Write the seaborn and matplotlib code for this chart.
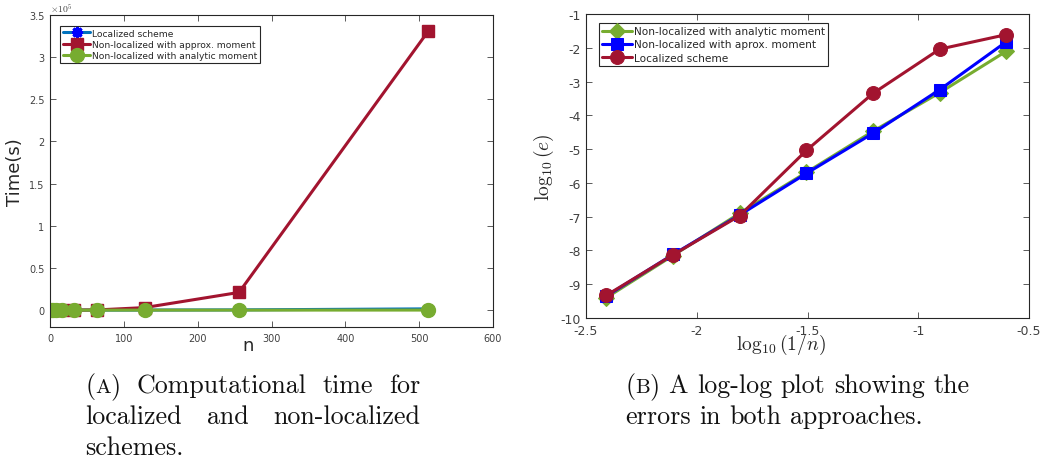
import matplotlib
matplotlib.use("Agg")
import matplotlib.pyplot as plt
import numpy as np
import pandas as pd
import seaborn as sns
from matplotlib.ticker import FuncFormatter

# ---- Panel (a): computational time vs n ----
n_time = [2, 4, 8, 16, 32, 64, 128, 256, 512]
time_localized = [1, 2, 5, 10, 20, 40, 90, 300, 1500]
time_nonloc_approx = [1, 3, 8, 20, 60, 250, 3000, 21000, 330500]
time_nonloc_analytic = [1, 1, 2, 3, 5, 10, 20, 40, 80]

# ---- Panel (b): log-log error plot ----
n_err = [256, 128, 64, 32, 16, 8, 4]
log_err_analytic = [-9.40, -8.15, -6.90, -5.69, -4.47, -3.33, -2.10]
log_err_approx = [-9.35, -8.12, -6.95, -5.72, -4.53, -3.24, -1.82]
log_err_localized = [-9.33, -8.13, -6.97, -5.04, -3.35, -2.04, -1.61]

time_legend = ["Localized scheme", "Non-localized with approx. moment",
               "Non-localized with analytic moment"]
err_legend = ["Non-localized with analytic moment",
              "Non-localized with aprox. moment", "Localized scheme"]

sns.set_style("white")
plt.rcParams["font.family"] = ["DejaVu Sans"]
plt.rcParams["mathtext.fontset"] = "cm"

C_BLUE_LIGHT = "#0072BD"
C_RED = "#A2142F"
C_GREEN = "#77AC30"
C_BLUE = "#0000FF"
AX_COL = "#262626"

W, H = 1060, 460
fig = plt.figure(figsize=(W / 100, H / 100), dpi=100)
ax1 = fig.add_axes([50 / W, 1 - 328 / H, 443 / W, 312 / H])
ax2 = fig.add_axes([586 / W, 1 - 319 / H, 443 / W, 304 / H])

df_time = pd.DataFrame({
    "n": n_time * 3,
    "t": time_localized + time_nonloc_approx + time_nonloc_analytic,
    "s": [time_legend[0]] * 9 + [time_legend[1]] * 9 + [time_legend[2]] * 9,
})

styles_time = [
    dict(color=C_BLUE_LIGHT, marker=(8, 2, 0), markersize=8, mfc=C_BLUE,
         mec=C_BLUE, mew=2.2),
    dict(color=C_RED, marker="s", markersize=9, mfc=C_RED, mec=C_RED, mew=1),
    dict(color=C_GREEN, marker="o", markersize=10, mfc=C_GREEN, mec=C_GREEN,
         mew=1),
]
for name, st in zip(time_legend, styles_time):
    sub = df_time[df_time["s"] == name]
    sns.lineplot(data=sub, x="n", y="t", ax=ax1, sort=False, label=name,
                 color=st["color"], marker=st["marker"],
                 markersize=st["markersize"], markerfacecolor=st["mfc"],
                 markeredgecolor=st["mec"], markeredgewidth=st["mew"],
                 linewidth=2.2)

ax1.set_xlim(0, 600)
ax1.set_ylim(-0.2e5, 3.5e5)
ax1.set_xticks(np.arange(0, 601, 100))
ax1.set_yticks(np.arange(0, 3.51e5, 0.5e5))
ax1.yaxis.set_major_formatter(FuncFormatter(lambda v, p: f"{v/1e5:g}"))
ax1.text(0.0, 1.004, r"$\times 10^5$", transform=ax1.transAxes,
         fontsize=7, color="#404040", ha="left", va="bottom")
ax1.set_xlabel("n", fontsize=13, color=AX_COL)
ax1.xaxis.set_label_coords(0.447, -0.028)
ax1.set_ylabel("Time(s)", fontsize=13, color=AX_COL)
ax1.yaxis.set_label_coords(-0.058, 0.5)
ax1.tick_params(labelsize=7, colors="#404040")
leg1 = ax1.legend(loc="upper left", bbox_to_anchor=(0.023, 0.965),
                  fontsize=6.6, frameon=True, fancybox=False,
                  handlelength=3.0, borderpad=0.3, labelspacing=0.25,
                  handletextpad=0.2, borderaxespad=0)

df_err = pd.DataFrame({
    "x": list(np.log10(1 / np.array(n_err, dtype=float))) * 3,
    "e": log_err_analytic + log_err_approx + log_err_localized,
    "s": [err_legend[0]] * 7 + [err_legend[1]] * 7 + [err_legend[2]] * 7,
})
styles_err = [
    dict(color=C_GREEN, marker="D", markersize=8),
    dict(color=C_BLUE, marker="s", markersize=9),
    dict(color=C_RED, marker="o", markersize=10),
]
for name, st in zip(err_legend, styles_err):
    sub = df_err[df_err["s"] == name]
    sns.lineplot(data=sub, x="x", y="e", ax=ax2, sort=False, label=name,
                 color=st["color"], marker=st["marker"],
                 markersize=st["markersize"], markerfacecolor=st["color"],
                 markeredgecolor=st["color"], linewidth=2.2)

ax2.set_xlim(-2.5, -0.5)
ax2.set_ylim(-10, -1)
ax2.set_xticks([-2.5, -2, -1.5, -1, -0.5])
ax2.set_yticks(np.arange(-10, -0.5, 1))
ax2.xaxis.set_major_formatter(FuncFormatter(lambda v, p: f"{v:g}"))
ax2.yaxis.set_major_formatter(FuncFormatter(lambda v, p: f"{v:g}"))
ax2.set_xlabel(r"$\log_{10}(1/n)$", fontsize=14, color=AX_COL)
ax2.xaxis.set_label_coords(0.44, -0.045)
ax2.set_ylabel(r"$\log_{10}(e)$", fontsize=14, color=AX_COL)
ax2.yaxis.set_label_coords(-0.068, 0.5)
ax2.tick_params(labelsize=9, colors="#404040")
leg2 = ax2.legend(loc="upper left", bbox_to_anchor=(0.03, 0.97), fontsize=7.6,
                  frameon=True, fancybox=False, handlelength=2.8,
                  borderpad=0.3, labelspacing=0.3, handletextpad=0.2,
                  borderaxespad=0)

for ax, leg in ((ax1, leg1), (ax2, leg2)):
    for sp in ax.spines.values():
        sp.set_visible(True)
        sp.set_color(AX_COL)
        sp.set_linewidth(0.8)
    ax.tick_params(direction="in", length=4, width=0.6, top=True, right=True,
                   bottom=True, left=True, pad=4)
    fr = leg.get_frame()
    fr.set_edgecolor(AX_COL)
    fr.set_linewidth(0.8)
    fr.set_alpha(1)

# ---- Subfigure captions (Computer Modern, small-caps panel letters) ----
CAP_FS = 18.7
renderer = fig.canvas.get_renderer()


def make_word(pieces, y):
    """Create text pieces for one word; return (artists, total width px)."""
    arts, widths = [], []
    for txt, scale in pieces:
        t = fig.text(0, y, txt, fontsize=CAP_FS * scale, family="cmr10",
                     color="#111111", va="baseline", ha="left",
                     transform=None)
        arts.append(t)
        widths.append(t.get_window_extent(renderer).width)
    return arts, widths


def set_line(words, x_left, y_px, x_right=None):
    """Lay out a caption line; justify it when x_right is given."""
    y = H - y_px
    built = [make_word(w, y) for w in words]
    total = sum(sum(ws) for _, ws in built)
    if x_right is not None and len(built) > 1:
        gap = (x_right - x_left - total) / (len(built) - 1)
    else:
        gap = CAP_FS * 100 / 72 * 0.333
    x = x_left
    for arts, ws in built:
        for a, w in zip(arts, ws):
            a.set_position((x, y))
            x += w
        x += gap


SC = 0.8  # small-caps scale
set_line([[("(", 1), ("A", SC), (")", 1)], [("Computational", 1)],
          [("time", 1)], [("for", 1)]], 85, 393, 420)
set_line([[("localized", 1)], [("and", 1)], [("non-localized", 1)]],
         85, 424, 420)
set_line([[("schemes.", 1)]], 85, 455)
set_line([[("(", 1), ("B", SC), (")", 1)], [("A", 1)], [("log-log", 1)],
          [("plot", 1)], [("showing", 1)], [("the", 1)]], 625, 393)
set_line([[("errors", 1)], [("in", 1)], [("both", 1)], [("approaches.", 1)]],
         625, 424)

fig.savefig("out.png", dpi=100)
